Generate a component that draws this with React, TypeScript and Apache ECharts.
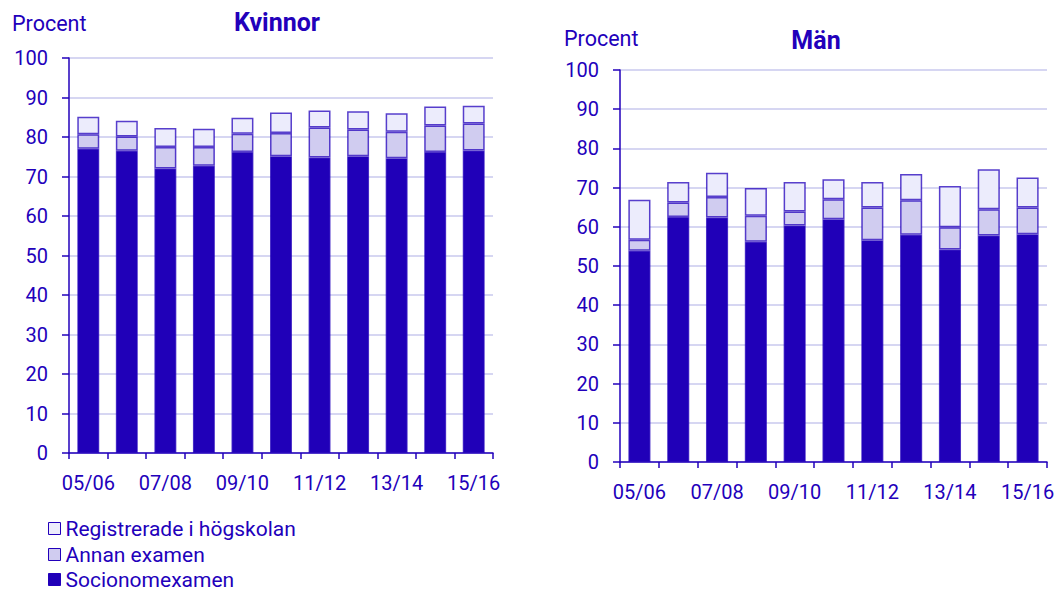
import React, { useEffect, useRef } from "react";
import * as echarts from "echarts";

const categories = ["05/06", "06/07", "07/08", "08/09", "09/10", "10/11", "11/12", "12/13", "13/14", "14/15", "15/16"];

const seriesNames = ["Socionomexamen", "Annan examen", "Registrerade i högskolan"];

const kvinnorSocionom = [77.0, 76.5, 72.0, 72.7, 76.2, 75.1, 74.8, 75.1, 74.6, 76.2, 76.6];
const kvinnorAnnan = [3.7, 3.6, 5.5, 4.8, 4.6, 5.9, 7.6, 6.8, 6.7, 6.7, 6.8];
const kvinnorReg = [4.4, 4.0, 4.8, 4.6, 4.1, 5.2, 4.3, 4.6, 4.7, 4.8, 4.5];

const manSocionom = [53.9, 62.5, 62.4, 56.2, 60.3, 61.9, 56.6, 58.0, 54.2, 57.8, 58.1];
const manAnnan = [2.8, 3.7, 5.2, 6.6, 3.6, 5.1, 8.3, 8.8, 5.7, 6.7, 6.8];
const manReg = [10.2, 5.2, 6.2, 7.1, 7.5, 5.1, 6.5, 6.7, 10.5, 10.2, 7.7];

const TEXT = "#2200BB";
const DARK = "#2000B8";
const MID = "#D0CCF0";
const LIGHT = "#ECECFC";
const GRIDLINE = "#D6D6F2";
const FONT = "Roboto, 'Noto Sans', sans-serif";

export default function App() {
  const ref = useRef<HTMLDivElement>(null);

  useEffect(() => {
    const chart = echarts.init(ref.current!, null, { renderer: "svg" });
    const colors = [DARK, MID, LIGHT];

    const makeAxes = (gi: number) => ({
      x: {
        type: "category",
        gridIndex: gi,
        data: categories,
        axisLine: { show: true, lineStyle: { color: TEXT, width: 1.5 } },
        axisTick: { show: true, alignWithLabel: false, interval: 0, length: 6, lineStyle: { color: TEXT, width: 1.5 } },
        axisLabel: { interval: 1, color: TEXT, fontSize: 20, fontFamily: FONT, margin: 20 },
      },
      y: {
        type: "value",
        gridIndex: gi,
        min: 0,
        max: 100,
        interval: 10,
        axisLine: { show: true, lineStyle: { color: TEXT, width: 1.5 } },
        axisTick: { show: true, length: 7, lineStyle: { color: TEXT, width: 1.5 } },
        axisLabel: { color: TEXT, fontSize: 20, fontFamily: FONT, margin: 21 },
        splitLine: { show: true, lineStyle: { color: GRIDLINE, width: 2 } },
      },
    });

    const a0 = makeAxes(0);
    const a1 = makeAxes(1);

    const mkSeries = (gi: number, data: number[][], stack: string) =>
      data.map((d, i) => ({
        name: seriesNames[i],
        type: "bar",
        stack,
        xAxisIndex: gi,
        yAxisIndex: gi,
        data: d,
        barWidth: "57%",
        itemStyle: { color: colors[i], borderColor: "rgba(34,0,187,0.75)", borderWidth: 1.5 },
      }));

    const legendItem = (name: string, top: number) => ({
      orient: "horizontal",
      left: 48,
      top,
      padding: 0,
      itemWidth: 12,
      itemHeight: 12,
      itemGap: 0,
      icon: "rect",
      data: [name],
      textStyle: { color: TEXT, fontSize: 21, fontFamily: FONT, padding: [0, 0, 0, 0] },
      itemStyle: { borderColor: TEXT, borderWidth: 1 },
      selectedMode: false,
    });

    chart.setOption({
      animation: false,
      textStyle: { fontFamily: FONT },
      title: [
        { text: "Procent", left: 12, top: 12, padding: 0, textStyle: { color: TEXT, fontSize: 21.5, fontWeight: "normal", fontFamily: FONT } },
        { text: "Kvinnor", left: 277, top: 10, padding: 0, textAlign: "center", textStyle: { color: TEXT, fontSize: 25, fontWeight: "bold", fontFamily: FONT } },
        { text: "Procent", left: 564, top: 27, padding: 0, textStyle: { color: TEXT, fontSize: 21.5, fontWeight: "normal", fontFamily: FONT } },
        { text: "Män", left: 816, top: 28, padding: 0, textAlign: "center", textStyle: { color: TEXT, fontSize: 25, fontWeight: "bold", fontFamily: FONT } },
      ],
      legend: [
        legendItem(seriesNames[2], 518),
        legendItem(seriesNames[1], 544),
        legendItem(seriesNames[0], 569),
      ],
      grid: [
        { left: 69, top: 58, right: 566, bottom: 139 },
        { left: 620, top: 70, right: 12, bottom: 130 },
      ],
      xAxis: [a0.x, a1.x],
      yAxis: [a0.y, a1.y],
      series: [
        ...mkSeries(0, [kvinnorSocionom, kvinnorAnnan, kvinnorReg], "k"),
        ...mkSeries(1, [manSocionom, manAnnan, manReg], "m"),
      ],
    });
    return () => chart.dispose();
  }, []);

  return <div ref={ref} style={{ width: 1059, height: 592, position: "absolute", left: 0, top: 0 }} />;
}
